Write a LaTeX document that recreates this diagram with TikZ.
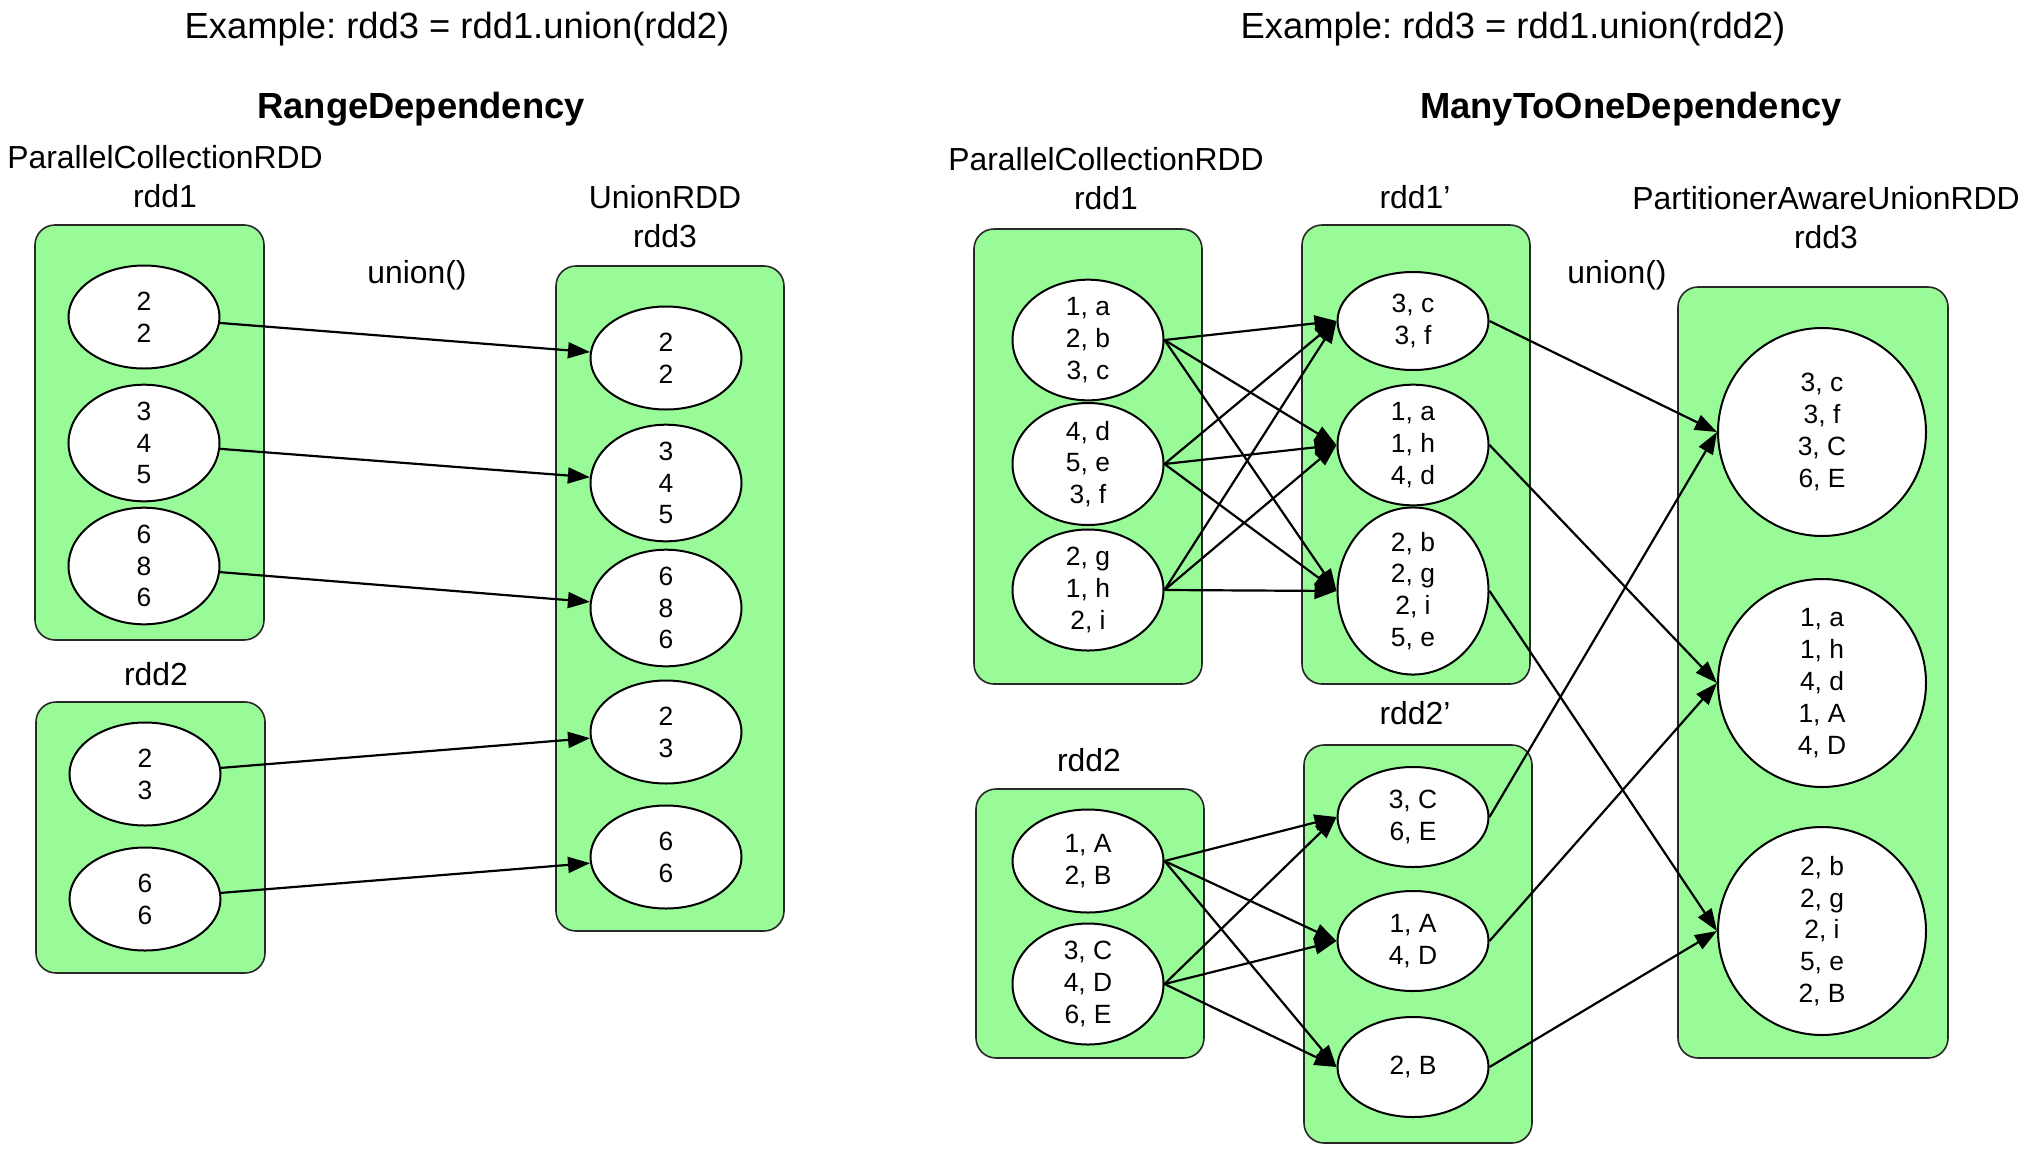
\documentclass[tikz,border=0pt]{standalone}
\usepackage{fontspec}
\setmainfont{Liberation Sans}
\usetikzlibrary{shapes.geometric,arrows.meta}
\definecolor{boxgreen}{RGB}{152,251,152}
\definecolor{edgegray}{RGB}{40,40,40}
\frenchspacing
\begin{document}
\begin{tikzpicture}[x=1bp,y=-1bp,
  box/.style={draw=edgegray,fill=boxgreen,rounded corners=20bp,line width=1.6bp,inner sep=0},
  part/.style={ellipse,draw=black,fill=white,line width=2bp,minimum width=151bp,minimum height=103bp,inner sep=0,align=center,font=\fontsize{26.5}{32}\selectfont},
  bigpart/.style={circle,draw=black,fill=white,line width=2bp,minimum size=208bp,inner sep=0,align=center,font=\fontsize{26.5}{32}\selectfont},
  lbl/.style={align=center,font=\fontsize{32}{39}\selectfont,inner sep=0},
  ttl/.style={font=\fontsize{36.5}{44}\selectfont,inner sep=0},
  hdr/.style={font=\bfseries\fontsize{36.5}{44}\selectfont,inner sep=0},
  arr/.style={-{Triangle[length=22bp,width=16bp]},line width=2.2bp},
]
\useasboundingbox (0,0) rectangle (2036,1150);
\fill[white] (0,0) rectangle (2036,1150);

% ---------------- Left: RangeDependency ----------------
\node[ttl] (tL) at (457,29) {Example: rdd3 = rdd1.union(rdd2)};
\node[hdr] (hL) at (421,109) {RangeDependency};
\node[lbl] (lL1) at (165,177) {ParallelCollectionRDD\\rdd1};
\node[lbl] (lL2) at (156,674) {rdd2};
\node[lbl] (lL3) at (665,217) {UnionRDD\\rdd3};
\node[lbl] (uL) at (417,275) {union()};

\node[box,minimum width=229bp,minimum height=415bp] (bL1) at (149.5,432.5) {};
\node[box,minimum width=229bp,minimum height=271bp] (bL2) at (150.5,837.5) {};
\node[box,minimum width=228bp,minimum height=665bp] (bL3) at (670,598.5) {};

\node[part] (L1a) at (144,317) {2\\2};
\node[part] (L1b) at (144,443) {3\\4\\5};
\node[part] (L1c) at (144,566) {6\\8\\6};
\node[part] (L2a) at (145,774) {2\\3};
\node[part] (L2b) at (145,899) {6\\6};

\node[part] (L3a) at (666,358) {2\\2};
\node[part] (L3b) at (666,483) {3\\4\\5};
\node[part] (L3c) at (666,608) {6\\8\\6};
\node[part] (L3d) at (666,732) {2\\3};
\node[part] (L3e) at (666,857) {6\\6};

\draw[arr] (L1a) -- (L3a);
\draw[arr] (L1b) -- (L3b);
\draw[arr] (L1c) -- (L3c);
\draw[arr] (L2a) -- (L3d);
\draw[arr] (L2b) -- (L3e);

% ---------------- Right: ManyToOneDependency ----------------
\node[ttl] (tR) at (1513,29) {Example: rdd3 = rdd1.union(rdd2)};
\node[hdr] (hR) at (1631,109) {ManyToOneDependency};
\node[lbl] (lR1) at (1106,179) {ParallelCollectionRDD\\rdd1};
\node[lbl] (lR2) at (1415,197) {rdd1’};
\node[lbl] (lR3) at (1089,760) {rdd2};
\node[lbl] (lR4) at (1415,713) {rdd2’};
\node[lbl] (lR5) at (1826,218) {PartitionerAwareUnionRDD\\rdd3};
\node[lbl] (uR) at (1617,275) {union()};

\node[box,minimum width=228bp,minimum height=455bp] (bR1) at (1088,456.5) {};
\node[box,minimum width=228bp,minimum height=459bp] (bR2) at (1416,454.5) {};
\node[box,minimum width=228bp,minimum height=269bp] (bR3) at (1090,923.5) {};
\node[box,minimum width=228bp,minimum height=398bp] (bR4) at (1418,944) {};
\node[box,minimum width=270bp,minimum height=771bp] (bR5) at (1813,672.5) {};

\node[part] (R1a) at (1088,340) {1, a\\2, b\\3, c};
\node[part] (R1b) at (1088,464) {4, d\\5, e\\3, f};
\node[part] (R1c) at (1088,590) {2, g\\1, h\\2, i};

\node[part,minimum height=98bp] (P1a) at (1413,321) {3, c\\3, f};
\node[part] (P1b) at (1413,445) {1, a\\1, h\\4, d};
\node[part,minimum height=140bp] (P1c) at (1413,591) {2, b\\2, g\\2, i\\5, e};

\node[part] (R2a) at (1088,861) {1, A\\2, B};
\node[part,minimum height=100bp] (R2b) at (1088,984) {3, C\\4, D\\6, E};

\node[part,minimum height=100bp] (P2a) at (1413,817) {3, C\\6, E};
\node[part,minimum height=100bp] (P2b) at (1413,941) {1, A\\4, D};
\node[part,minimum height=100bp] (P2c) at (1413,1067) {2, B};

\node[bigpart] (U1) at (1822,432) {3, c\\3, f\\3, C\\6, E};
\node[bigpart] (U2) at (1822,683) {1, a\\1, h\\4, d\\1, A\\4, D};
\node[bigpart] (U3) at (1822,931) {2, b\\2, g\\2, i\\5, e\\2, B};

\foreach \s in {R1a,R1b,R1c}{
  \foreach \t in {P1a,P1b,P1c}{
    \draw[arr] (\s.east) -- (\t.west);
  }
}
\foreach \s in {R2a,R2b}{
  \foreach \t in {P2a,P2b,P2c}{
    \draw[arr] (\s.east) -- (\t.west);
  }
}
\draw[arr] (P1a.east) -- (U1.west);
\draw[arr] (P1b.east) -- (U2.west);
\draw[arr] (P1c.east) -- (U3.west);
\draw[arr] (P2a.east) -- (U1.west);
\draw[arr] (P2b.east) -- (U2.west);
\draw[arr] (P2c.east) -- (U3.west);
\end{tikzpicture}
\end{document}
